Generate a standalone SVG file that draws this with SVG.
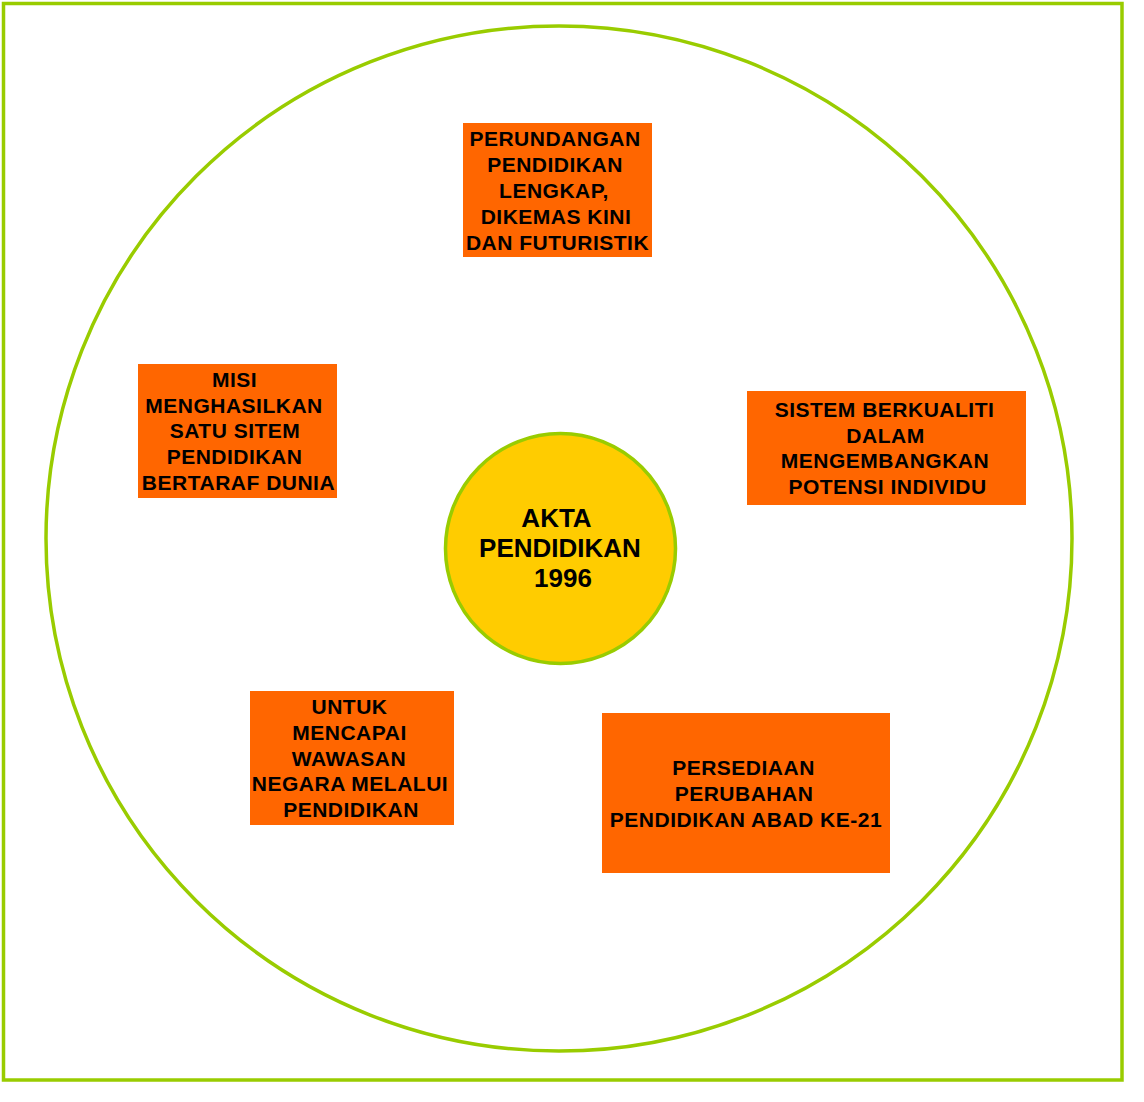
<svg xmlns="http://www.w3.org/2000/svg" width="1144" height="1102" viewBox="0 0 1144 1102">
<style>
.frame{fill:none;stroke:#99CC00;stroke-width:3.5}
.box{fill:#FF6600}
.t{font-family:"Liberation Sans",Arial,sans-serif;font-weight:bold;font-size:21px;letter-spacing:0.5px;fill:#000;text-anchor:middle}
.c{font-family:"Liberation Sans",Arial,sans-serif;font-weight:bold;font-size:26px;fill:#000;text-anchor:middle}
</style>
<rect width="1144" height="1102" fill="#fff"/>
<rect class="frame" x="3.5" y="3.5" width="1118.5" height="1076.5"/>
<ellipse class="frame" cx="559" cy="538.5" rx="513" ry="512.5"/>
<g id="connectors"></g>
<g id="n-perundangan">
<rect class="box" x="463" y="123" width="189" height="134"/>
<text class="t" x="555" y="146">PERUNDANGAN</text>
<text class="t" x="555" y="172">PENDIDIKAN</text>
<text class="t" x="554" y="198">LENGKAP,</text>
<text class="t" x="556" y="224">DIKEMAS KINI</text>
<text class="t" x="557.5" y="250">DAN FUTURISTIK</text>
</g>
<g id="n-misi">
<rect class="box" x="138" y="364" width="199" height="134"/>
<text class="t" x="234.5" y="387">MISI</text>
<text class="t" x="234" y="412.7">MENGHASILKAN</text>
<text class="t" x="235" y="438.4">SATU SITEM</text>
<text class="t" x="234.5" y="464">PENDIDIKAN</text>
<text class="t" x="238.5" y="489.5">BERTARAF DUNIA</text>
</g>
<g id="n-sistem">
<rect class="box" x="747" y="391" width="279" height="114"/>
<text class="t" x="884.5" y="417">SISTEM BERKUALITI</text>
<text class="t" x="885.5" y="442.5">DALAM</text>
<text class="t" x="885" y="468">MENGEMBANGKAN</text>
<text class="t" x="887.5" y="493.5">POTENSI INDIVIDU</text>
</g>
<g id="n-akta">
<circle cx="560.5" cy="548.5" r="115" fill="#FFCC00" stroke="#99CC00" stroke-width="3.5"/>
<text class="c" x="556.5" y="527">AKTA</text>
<text class="c" x="560" y="557">PENDIDIKAN</text>
<text class="c" x="563" y="587">1996</text>
</g>
<g id="n-untuk">
<rect class="box" x="250" y="691" width="204" height="134"/>
<text class="t" x="349.5" y="714">UNTUK</text>
<text class="t" x="349.5" y="739.8">MENCAPAI</text>
<text class="t" x="349" y="765.6">WAWASAN</text>
<text class="t" x="350" y="791.4">NEGARA MELALUI</text>
<text class="t" x="351" y="817.2">PENDIDIKAN</text>
</g>
<g id="n-persediaan">
<rect class="box" x="602" y="713" width="288" height="160"/>
<text class="t" x="743.5" y="775">PERSEDIAAN</text>
<text class="t" x="744" y="801">PERUBAHAN</text>
<text class="t" x="746" y="827">PENDIDIKAN ABAD KE-21</text>
</g>
</svg>
